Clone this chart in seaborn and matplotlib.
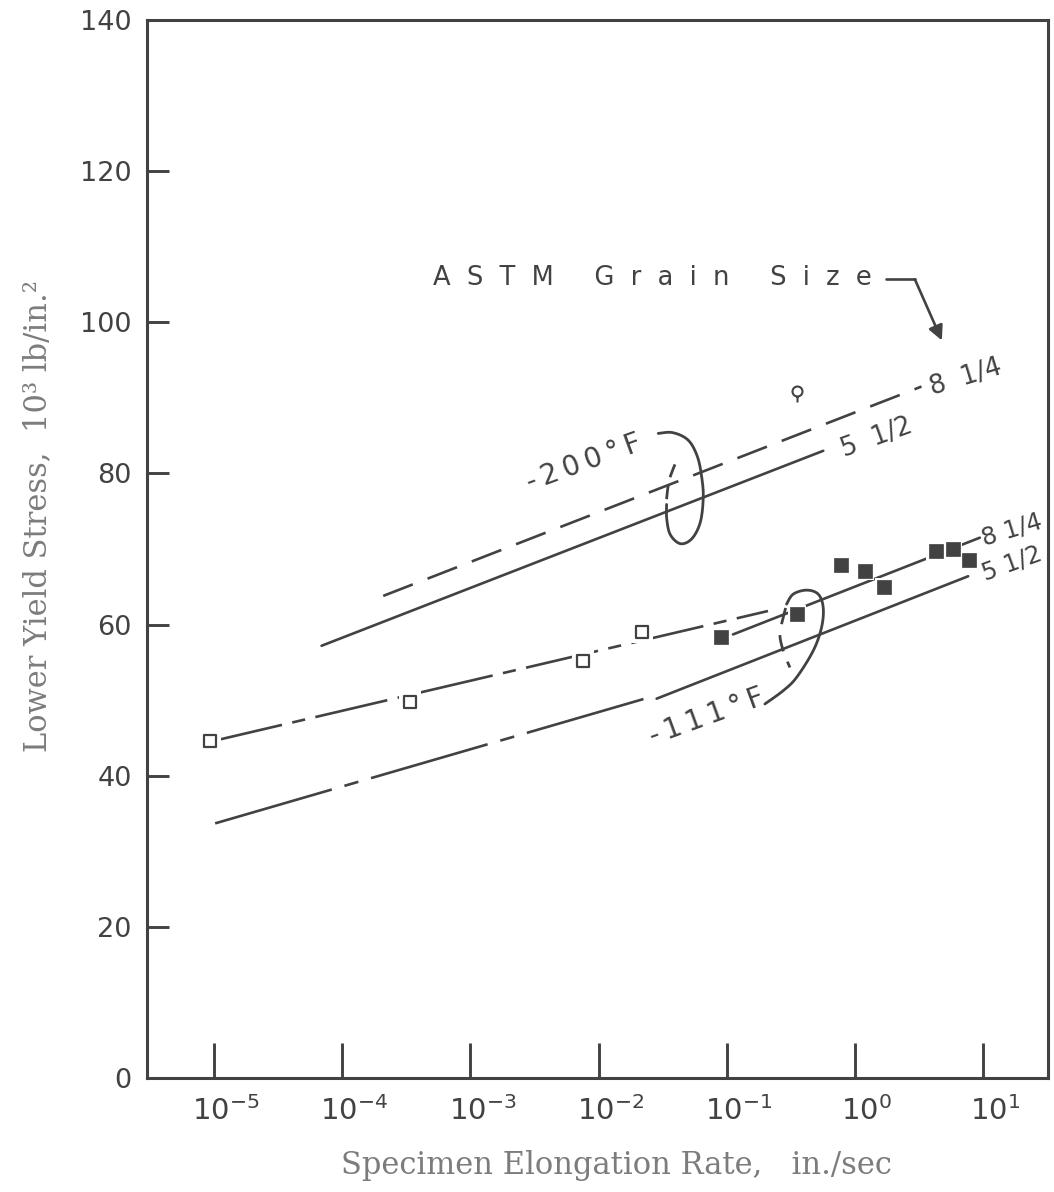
import numpy as np
import matplotlib
matplotlib.use("Agg")
import matplotlib.pyplot as plt
from matplotlib.path import Path
from matplotlib.ticker import NullLocator
from matplotlib.transforms import ScaledTranslation
import seaborn as sns

# ---------------------------------------------------------------- data
# -111 F, ASTM grain size 8 1/4, slow tests (open squares)
slow_rate = [9.3e-6, 3.4e-4, 7.5e-3, 2.17e-2]
slow_stress = [44.6, 49.8, 55.2, 59.0]

# -111 F, ASTM grain size 8 1/4, fast tests (filled squares)
fast_rate = [0.091, 0.355, 0.78, 1.19, 1.69, 4.26, 5.85, 7.71]
fast_stress = [58.4, 61.4, 67.9, 67.1, 65.0, 69.7, 70.0, 68.5]

# -200 F single test
cold_rate = [0.351]
cold_stress = [90.9]

# fitted trend lines (end points)
cold_fine_rate = [2.09e-4, 3.31]          # -200 F, 8 1/4
cold_fine_stress = [63.8, 91.5]
cold_coarse_rate = [6.9e-5, 0.567]        # -200 F, 5 1/2
cold_coarse_stress = [57.2, 83.0]
mid_fine_slow_rate = [9.3e-6, 0.21]       # -111 F, 8 1/4
mid_fine_slow_stress = [44.5, 61.8]
mid_fine_fast_rate = [0.112, 9.44]
mid_fine_fast_stress = [58.7, 71.5]
mid_coarse_slow_rate = [1.02e-5, 0.0252]  # -111 F, 5 1/2
mid_coarse_slow_stress = [33.7, 50.4]
mid_coarse_fast_rate = [0.0284, 7.66]
mid_coarse_fast_stress = [50.2, 66.4]

x_ticks = [1e-5, 1e-4, 1e-3, 1e-2, 1e-1, 1e0, 1e1]
x_tick_labels = [r"$10^{-5}$", r"$10^{-4}$", r"$10^{-3}$", r"$10^{-2}$",
                 r"$10^{-1}$", r"$10^{0}$", r"$10^{1}$"]
y_ticks = [0, 20, 40, 60, 80, 100, 120, 140]
y_tick_labels = ["0", "20", "40", "60", "80", "100", "120", "140"]

# ---------------------------------------------------------------- style
INK = "#424242"
LABEL_INK = "#7c7c7c"

sns.set_theme(style="ticks")
plt.rcParams["font.family"] = ["DejaVu Sans"]
plt.rcParams["mathtext.fontset"] = "dejavusans"

fig = plt.figure(figsize=(10.54, 11.92), dpi=100)
ax = fig.add_axes([0.1395, 0.0956, 0.8548, 0.8876])
ax.set_facecolor("white")
ax.set_xscale("log")
ax.set_xlim(10 ** -5.523, 10 ** 1.507)
ax.set_ylim(0, 140)


def trend(rate, stress, style, z=2):
    sns.lineplot(x=rate, y=stress, ax=ax, color=INK, linewidth=1.9,
                 linestyle=style, sort=False, estimator=None,
                 legend=False, zorder=z)


DASHED = (0, (12, 6))
DASH_DOT = (0, (28, 4, 5, 4))
LONG_DASH_DOT = (0, (46, 5, 5.5, 5))

trend(cold_fine_rate, cold_fine_stress, DASHED)
trend(cold_coarse_rate, cold_coarse_stress, "-")
trend(mid_fine_slow_rate, mid_fine_slow_stress, DASH_DOT)
trend(mid_fine_fast_rate, mid_fine_fast_stress, "-")
trend(mid_coarse_slow_rate, mid_coarse_slow_stress, LONG_DASH_DOT)
trend(mid_coarse_fast_rate, mid_coarse_fast_stress, "-")

# white knock-outs so lines stop short of the symbols
sns.scatterplot(x=slow_rate, y=slow_stress, ax=ax, marker="s", s=250,
                color="white", edgecolor="none", linewidth=0, zorder=3,
                legend=False)
sns.scatterplot(x=fast_rate, y=fast_stress, ax=ax, marker="s", s=170,
                color="white", edgecolor="none", linewidth=0, zorder=3,
                legend=False)

sns.scatterplot(x=slow_rate, y=slow_stress, ax=ax, marker="s", s=64,
                color="white", edgecolor=INK, linewidth=1.6, zorder=4,
                legend=False)
sns.scatterplot(x=fast_rate, y=fast_stress, ax=ax, marker="s", s=100,
                color=INK, edgecolor=INK, linewidth=0.5, zorder=4,
                legend=False)

# flagged circle for the -200 F test
flag = Path.make_compound_path(
    Path.circle((0, 0), 0.5),
    Path([(0, -0.5), (0, -1.1)], [Path.MOVETO, Path.LINETO]),
)
sns.scatterplot(x=cold_rate, y=cold_stress, ax=ax, marker=flag, s=250,
                color="white", edgecolor=INK, linewidth=1.5, zorder=4,
                legend=False)


# ---------------------------------------------------------------- loops
def smooth(pts, n=14):
    p = np.asarray(pts, float)
    p = np.vstack([p[0], p, p[-1]])
    out = []
    t = np.linspace(0, 1, n, endpoint=False)[:, None]
    for i in range(1, len(p) - 2):
        p0, p1, p2, p3 = p[i - 1], p[i], p[i + 1], p[i + 2]
        out.append(0.5 * (2 * p1 + (-p0 + p2) * t
                          + (2 * p0 - 5 * p1 + 4 * p2 - p3) * t ** 2
                          + (-p0 + 3 * p1 - 3 * p2 + p3) * t ** 3))
    out.append(p[-2][None, :])
    return np.vstack(out)


def loop(pts, style):
    s = smooth(pts)
    ax.plot(10 ** s[:, 0], s[:, 1], color=INK, lw=2.0, ls=style,
            zorder=5, solid_capstyle="round")


# -200 F group marker (log10 rate, stress)
loop([(-1.534, 85.3), (-1.420, 85.4), (-1.300, 84.4), (-1.228, 82.2),
      (-1.194, 79.4), (-1.183, 76.8), (-1.205, 73.6), (-1.270, 71.4),
      (-1.360, 70.7), (-1.440, 71.9), (-1.468, 74.0), (-1.469, 75.9)], "-")
loop([(-1.469, 76.6), (-1.459, 78.11), (-1.443, 79.43), (-1.404, 81.2)],
     (0, (5, 3)))

# -111 F group marker
loop([(-0.702, 49.50), (-0.559, 51.26), (-0.455, 53.01), (-0.325, 56.54),
      (-0.260, 59.62), (-0.247, 62.26), (-0.286, 64.03), (-0.377, 64.56),
      (-0.481, 64.03), (-0.533, 62.71)], "-")
loop([(-0.540, 62.2), (-0.559, 60.94), (-0.585, 58.75), (-0.559, 56.54),
      (-0.507, 54.33)], (0, (6, 4)))

# ---------------------------------------------------------------- text
TXT = dict(color=INK, family="DejaVu Sans", rotation_mode="anchor",
           ha="center", va="center", clip_on=False, zorder=6)
ts = "\u2009"
ax.text(10 ** -2.115, 81.4, ts.join("-200°F"), rotation=20, fontsize=20, **TXT)
ax.text(10 ** -1.157, 47.8, ts.join("-111°F"), rotation=20, fontsize=20, **TXT)
ax.text(10 ** 0.865, 92.7, "8  1/4", rotation=17, fontsize=18.5, **TXT)
ax.text(10 ** 0.172, 84.7, "5  1/2", rotation=20, fontsize=18.5, **TXT)
ax.text(10 ** 1.225, 72.5, "8 1/4", rotation=17, fontsize=17.5, **TXT)
ax.text(10 ** 1.225, 68.1, "5 1/2", rotation=20, fontsize=17.5, **TXT)

astm = "     ".join("  ".join(w) for w in ["ASTM", "Grain", "Size"])
ax.text(10 ** -3.294, 105.9, astm, fontsize=18.5, color=INK, ha="left",
        va="center", zorder=6)
ax.plot([10 ** 0.245, 10 ** 0.468], [105.7, 105.7], color=INK, lw=1.9,
        zorder=5)
ax.annotate("", xy=(10 ** 0.679, 97.6), xytext=(10 ** 0.468, 105.7),
            arrowprops=dict(arrowstyle="-|>", color=INK, lw=1.9,
                            mutation_scale=22, shrinkA=0, shrinkB=0),
            zorder=5)

# ---------------------------------------------------------------- axes
ax.set_xticks(x_ticks)
ax.set_xticklabels(x_tick_labels)
ax.xaxis.set_minor_locator(NullLocator())
ax.set_yticks(y_ticks)
ax.set_yticklabels(y_tick_labels)

ax.tick_params(axis="x", direction="in", length=25, width=2.1, color=INK,
               labelsize=21, labelcolor=INK, pad=13)
ax.tick_params(axis="y", direction="in", length=16, width=2.1, color=INK,
               labelsize=19.5, labelcolor=INK, pad=11)
for lab in ax.get_xticklabels():
    lab.set_transform(lab.get_transform()
                      + ScaledTranslation(0.12, 0, fig.dpi_scale_trans))

for side in ["left", "right", "top", "bottom"]:
    ax.spines[side].set_visible(True)
    ax.spines[side].set_color(INK)
    ax.spines[side].set_linewidth(2.2)

LBL = dict(family="DejaVu Serif", fontsize=22, color=LABEL_INK)
ax.set_xlabel("Specimen Elongation Rate,   in./sec", **LBL)
ax.set_ylabel("Lower Yield Stress,  10\u00b3 lb/in.\u00b2", **LBL)
ax.xaxis.label.set_va("center")
ax.yaxis.label.set_va("center")
ax.xaxis.set_label_coords(0.521, -0.0822)
ax.yaxis.set_label_coords(-0.121, 0.531)

fig.savefig("out.png", dpi=100, facecolor="white")
